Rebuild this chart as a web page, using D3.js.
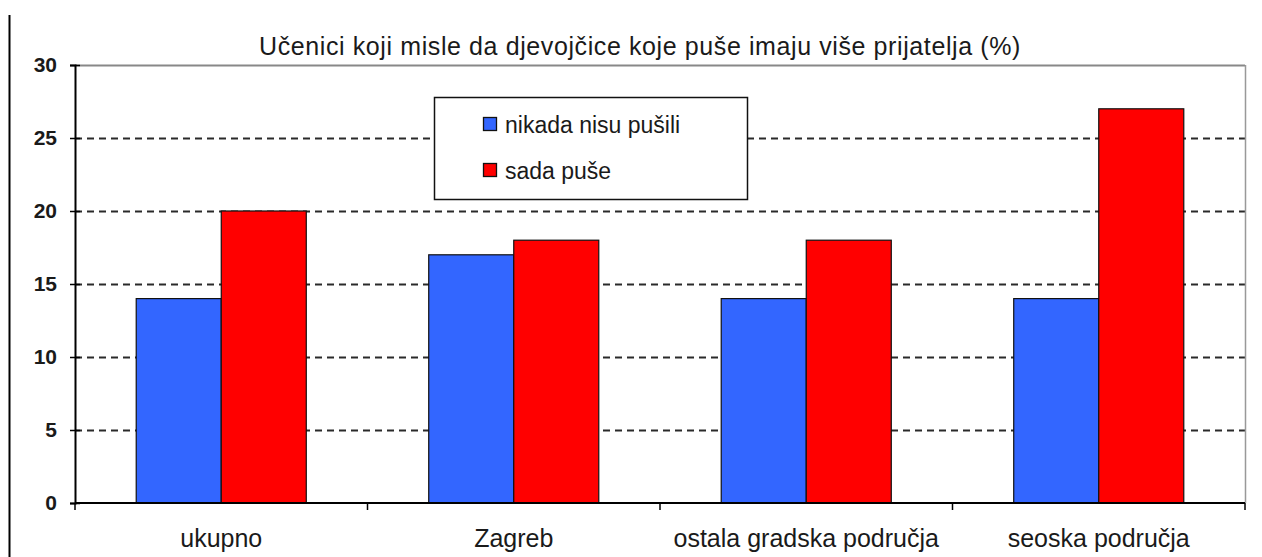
<!DOCTYPE html>
<html><head><meta charset="utf-8">
<script src="https://cdn.jsdelivr.net/npm/d3@7"></script>
<style>
html,body{margin:0;padding:0;background:#fff;}
text{font-family:"Liberation Sans",Arial,sans-serif;fill:#1a1a1a;}
</style></head>
<body>
<script>
const categories = ["ukupno", "Zagreb", "ostala gradska područja", "seoska područja"];
const seriesNames = ["nikada nisu pušili", "sada puše"];
const neverSmoked = [14, 17, 14, 14];
const smokeNow = [20, 18, 18, 27];
const yTicks = [0, 5, 10, 15, 20, 25, 30];
const colors = ["#3366ff", "#ff0000"];
const title = "Učenici koji misle da djevojčice koje puše imaju više prijatelja (%)";

const W = 1262, H = 557;
const m = {left: 75, right: 17, top: 65, bottom: 54};
const svg = d3.select("body").append("svg").attr("width", W).attr("height", H);

// outer left border line
svg.append("line").attr("x1", 9.5).attr("x2", 9.5).attr("y1", 15).attr("y2", H).attr("stroke", "#000").attr("stroke-width", 2);

const x0 = d3.scaleBand().domain(categories).range([m.left, W - m.right]).paddingInner(0).paddingOuter(0);
const x1 = d3.scaleBand().domain(seriesNames).range([0, x0.bandwidth()]).paddingInner(0).paddingOuter(0.72);
const y = d3.scaleLinear().domain([0, 30]).range([H - m.bottom, m.top]);

const g = svg.append("g");
// gridlines
g.selectAll("line.grid").data(yTicks.filter(t => t > 0 && t < 30)).enter().append("line")
  .attr("x1", m.left).attr("x2", W - m.right)
  .attr("y1", d => Math.round(y(d)) + 0.5).attr("y2", d => Math.round(y(d)) + 0.5)
  .attr("stroke", "#2a2a2a").attr("stroke-dasharray", "7,5").attr("stroke-width", 1.8);
// top and right borders
g.append("line").attr("x1", m.left).attr("x2", W - m.right).attr("y1", y(30) + 0.5).attr("y2", y(30) + 0.5).attr("stroke", "#888").attr("stroke-width", 2);
g.append("line").attr("x1", W - m.right + 0.5).attr("x2", W - m.right + 0.5).attr("y1", y(30)).attr("y2", y(0)).attr("stroke", "#999").attr("stroke-width", 1.5);

// bars
const data = categories.map((c, i) => ({cat: c, vals: [neverSmoked[i], smokeNow[i]]}));
const grp = g.selectAll("g.cat").data(data).enter().append("g").attr("transform", d => `translate(${x0(d.cat)},0)`);
grp.selectAll("rect").data(d => d.vals.map((v, j) => ({s: seriesNames[j], v, j}))).enter().append("rect")
  .attr("x", d => x1(d.s)).attr("width", x1.bandwidth())
  .attr("y", d => y(d.v)).attr("height", d => y(0) - y(d.v))
  .attr("fill", d => colors[d.j]).attr("stroke", "#111").attr("stroke-width", 1.2);

// y axis
const yAxis = d3.axisLeft(y).tickValues(yTicks).tickSize(5).tickPadding(13);
const ya = svg.append("g").attr("transform", `translate(${m.left},0)`).call(yAxis);
ya.select(".domain").attr("stroke", "#000").attr("stroke-width", 2);
ya.selectAll(".tick line").attr("x1", 5).attr("x2", -5).attr("stroke", "#000").attr("stroke-width", 1.5);
ya.selectAll("text").style("font-size", "21px").style("font-weight", "bold").attr("fill", "#222");

// x axis with ticks at category boundaries
const xa = svg.append("g").attr("transform", `translate(0,${y(0)})`);
xa.append("line").attr("x1", m.left).attr("x2", W - m.right).attr("stroke", "#000").attr("stroke-width", 2);
const bounds = categories.map(c => x0(c)).concat([x0(categories[categories.length - 1]) + x0.bandwidth()]);
xa.selectAll("line.t").data(bounds).enter().append("line")
  .attr("x1", d => d).attr("x2", d => d).attr("y1", 0).attr("y2", 7).attr("stroke", "#000").attr("stroke-width", 1.5);
xa.selectAll("text").data(categories).enter().append("text")
  .attr("x", d => x0(d) + x0.bandwidth() / 2).attr("y", 44).attr("text-anchor", "middle")
  .style("font-size", "25px").text(d => d);

// title
svg.append("text").attr("x", 640).attr("y", 55).attr("text-anchor", "middle")
  .style("font-size", "25px").style("letter-spacing", "0.6px").text(title);

// legend
const lg = svg.append("g").attr("transform", "translate(434,97)");
lg.append("rect").attr("x", 0.5).attr("y", 0.5).attr("width", 313).attr("height", 102).attr("fill", "#fff").attr("stroke", "#111").attr("stroke-width", 1.5);
seriesNames.forEach((s, i) => {
  const yy = 27 + i * 46;
  lg.append("rect").attr("x", 49.5).attr("y", yy - 6.5).attr("width", 13).attr("height", 13).attr("fill", colors[i]).attr("stroke", "#111").attr("stroke-width", 1.3);
  lg.append("text").attr("x", 71).attr("y", yy + 9).style("font-size", "23px").text(s);
});
</script>
</body></html>
